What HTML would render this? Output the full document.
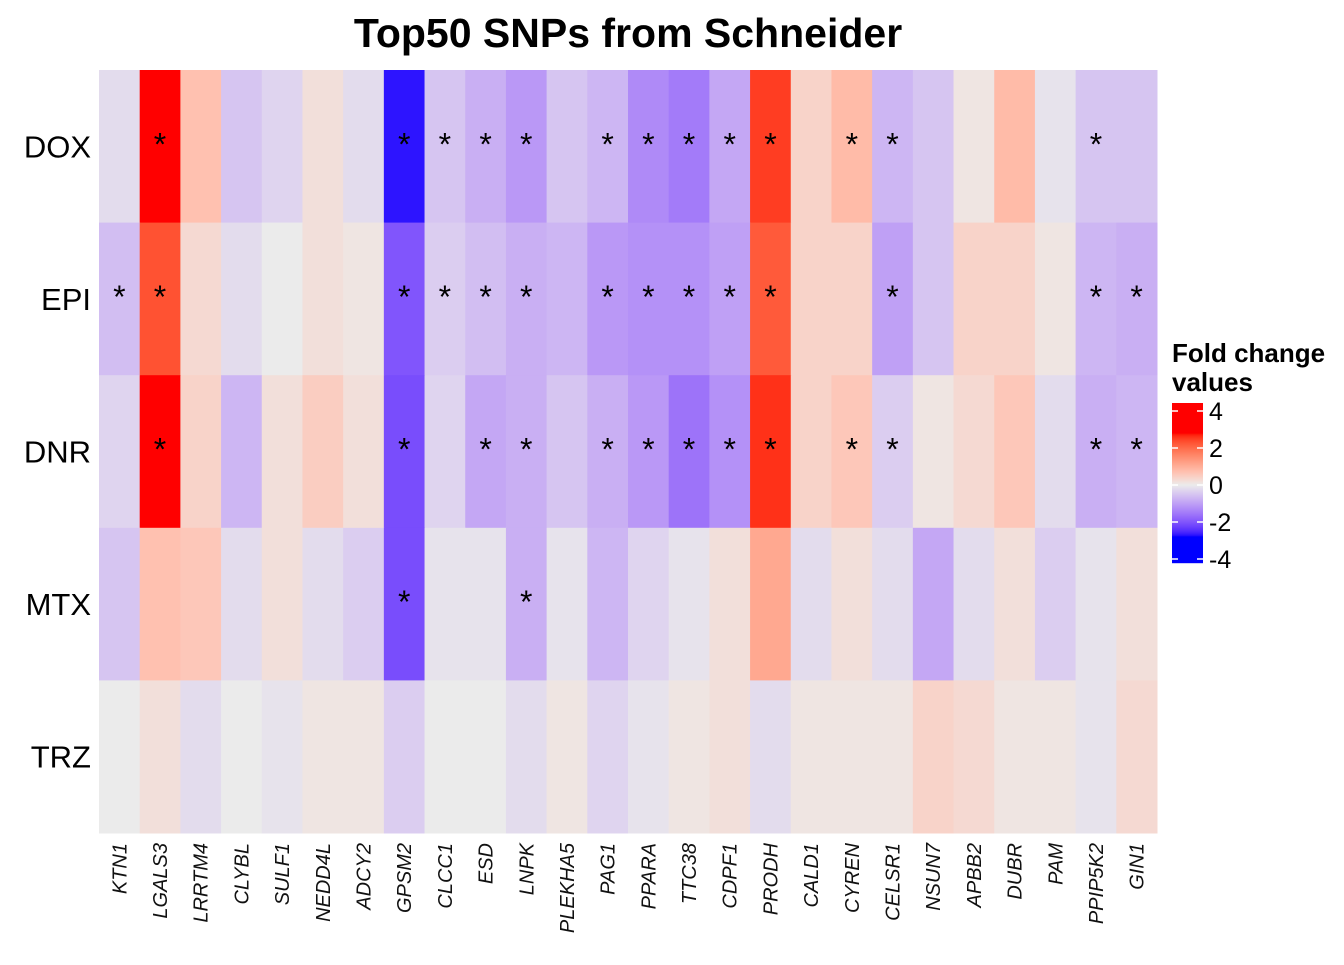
<!DOCTYPE html>
<html><head><meta charset="utf-8"><style>
body{margin:0;background:#fff;width:1344px;height:960px;overflow:hidden;font-family:"Liberation Sans",sans-serif}
</style></head><body>
<svg id="chart" width="1344" height="960" xmlns="http://www.w3.org/2000/svg">
<text x="628" y="47" text-anchor="middle" font-size="41" font-weight="bold" font-family="Liberation Sans, sans-serif">Top50 SNPs from Schneider</text>
<g id="cells"></g><g id="stars"></g><g id="xlabels"></g><g id="ylabels"></g>
<g>
<text x="1172" y="362" font-size="26" font-weight="bold">Fold change</text>
<text x="1172" y="391" font-size="26" font-weight="bold">values</text>
<g id="legbar"></g>
</g>
</svg>
<script>
const cols=["KTN1","LGALS3","LRRTM4","CLYBL","SULF1","NEDD4L","ADCY2","GPSM2","CLCC1","ESD","LNPK","PLEKHA5","PAG1","PPARA","TTC38","CDPF1","PRODH","CALD1","CYREN","CELSR1","NSUN7","APBB2","DUBR","PAM","PPIP5K2","GIN1"];
const rows=["DOX","EPI","DNR","MTX","TRZ"];
const valDOX=[-0.2,3.5,0.7,-0.5,-0.3,0.2,-0.2,-2.7,-0.5,-0.8,-1.1,-0.5,-0.7,-1.3,-1.5,-0.9,2.5,0.4,0.8,-0.7,-0.5,0.1,0.8,-0.1,-0.5,-0.5];
const valEPI=[-0.6,2.3,0.3,-0.2,0,0.2,0.1,-2.0,-0.4,-0.6,-0.8,-0.7,-1.1,-1.2,-1.2,-1.0,2.2,0.4,0.4,-1.0,-0.5,0.4,0.4,0.1,-0.7,-0.8];
const valDNR=[-0.3,3.3,0.4,-0.7,0.2,0.5,0.2,-2.1,-0.3,-0.9,-0.8,-0.5,-0.8,-1.1,-1.6,-1.2,2.6,0.4,0.6,-0.4,0.1,0.3,0.6,-0.2,-0.8,-0.7];
const valMTX=[-0.5,0.7,0.6,-0.2,0.2,-0.2,-0.4,-2.1,-0.1,-0.1,-0.8,-0.1,-0.7,-0.3,-0.1,0.2,1.1,-0.2,0.2,-0.2,-0.9,-0.2,0.2,-0.4,-0.1,0.2];
const valTRZ=[0,0.2,-0.2,0,-0.1,0.1,0.1,-0.4,0,0,-0.2,0.1,-0.3,-0.1,0.1,0.2,-0.2,0.1,0.1,0.1,0.4,0.3,0.1,0.1,-0.1,0.3];
const sigDOX=["LGALS3","GPSM2","CLCC1","ESD","LNPK","PAG1","PPARA","TTC38","CDPF1","PRODH","CYREN","CELSR1","PPIP5K2"];
const sigEPI=["KTN1","LGALS3","GPSM2","CLCC1","ESD","LNPK","PAG1","PPARA","TTC38","CDPF1","PRODH","CELSR1","PPIP5K2","GIN1"];
const sigDNR=["LGALS3","GPSM2","ESD","LNPK","PAG1","PPARA","TTC38","CDPF1","PRODH","CYREN","CELSR1","PPIP5K2","GIN1"];
const sigMTX=["GPSM2","LNPK"];
const sigTRZ=[];
const legendTicks=[4,2,0,-2,-4];
const vals=[valDOX,valEPI,valDNR,valMTX,valTRZ], sigs=[sigDOX,sigEPI,sigDNR,sigMTX,sigTRZ];
const X0=99,X1=1157,Y0=70,Y1=833,cw=(X1-X0)/cols.length,rh=(Y1-Y0)/rows.length;
const xs=i=>X0+i*cw, ys=j=>Y0+j*rh;
function toLab(h){let c=[0,2,4].map(i=>parseInt(h.substr(1+i,2),16)/255).map(v=>v>0.04045?Math.pow((v+0.055)/1.055,2.4):v/12.92);
let X=(c[0]*0.4124+c[1]*0.3576+c[2]*0.1805)/0.95047,Y=c[0]*0.2126+c[1]*0.7152+c[2]*0.0722,Z=(c[0]*0.0193+c[1]*0.1192+c[2]*0.9505)/1.08883;
const f=t=>t>0.008856?Math.cbrt(t):7.787*t+16/116;return[116*f(Y)-16,500*(f(X)-f(Y)),200*(f(Y)-f(Z))];}
function fromLab(l){let fy=(l[0]+16)/116,fx=fy+l[1]/500,fz=fy-l[2]/200;const g=t=>t*t*t>0.008856?t*t*t:(t-16/116)/7.787;
let X=g(fx)*0.95047,Y=g(fy),Z=g(fz)*1.08883;let r=3.2406*X-1.5372*Y-0.4986*Z,gg=-0.9689*X+1.8758*Y+0.0415*Z,b=0.0557*X-0.2040*Y+1.0570*Z;
return"rgb("+[r,gg,b].map(v=>{v=v>0.0031308?1.055*Math.pow(v,1/2.4)-0.055:12.92*v;return Math.round(Math.max(0,Math.min(1,v))*255)}).join(",")+")";}
const LR=toLab("#FF0000"),LB=toLab("#0000FF"),LM=toLab("#EBEBEB"),LIM=2.8;
function color(v){let t=Math.max(-1,Math.min(1,v/LIM));const e=t>=0?LR:LB;t=Math.abs(t);return fromLab(LM.map((m,i)=>m+(e[i]-m)*t));}
const NS="http://www.w3.org/2000/svg";
function mk(tag,attrs,parent){const e=document.createElementNS(NS,tag);for(const k in attrs)e.setAttribute(k,attrs[k]);document.getElementById(parent).appendChild(e);return e;}
rows.forEach((r,j)=>{cols.forEach((c,i)=>{
const el=mk("rect",{x:xs(i),y:ys(j),width:cw+0.5,height:rh+0.5,fill:color(vals[j][i])},"cells");


if(sigs[j].includes(c)){const s=mk("text",{x:xs(i)+cw/2,y:ys(j)+rh/2+9,"text-anchor":"middle","font-size":"32"},"stars");s.textContent="*";

}
});
const t=mk("text",{x:91,y:ys(j)+rh/2+11,"text-anchor":"end","font-size":"31"},"ylabels");t.textContent=r;


});
cols.forEach((c,i)=>{const cx=xs(i)+cw/2+7;const t=mk("text",{x:0,y:0,transform:`translate(${cx},843) rotate(-90)`,"text-anchor":"end","font-size":"20","font-style":"italic",fill:"#111"},"xlabels");t.textContent=c;

});
const ly=v=>485-v*18.5;
for(let y=403;y<563;y++){const v=(485-y-0.5)/18.5;const r=mk("rect",{x:1172,y:y,width:31,height:1.2,fill:color(v)},"legbar");

}
legendTicks.forEach(v=>{const y=ly(v);
const a=mk("line",{x1:1172,x2:1178,y1:y,y2:y,stroke:"#fff","stroke-width":1.5},"legbar");
const b=mk("line",{x1:1197,x2:1203,y1:y,y2:y,stroke:"#fff","stroke-width":1.5},"legbar");
const t=mk("text",{x:1209,y:y+9,"font-size":"25"},"legbar");t.textContent=v;

});
</script>
</body></html>
